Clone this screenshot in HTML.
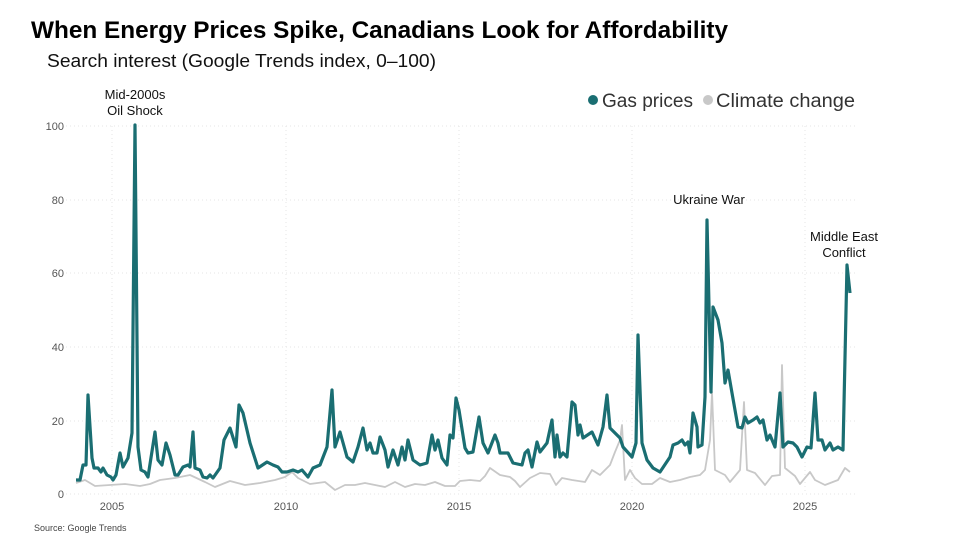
<!DOCTYPE html>
<html><head><meta charset="utf-8"><style>
body{margin:0;width:960px;height:540px;background:#fff;overflow:hidden;font-family:"Liberation Sans",sans-serif}
</style></head><body>
<svg width="960" height="540" xmlns="http://www.w3.org/2000/svg" font-family="Liberation Sans, sans-serif">
<text x="31" y="38" font-size="24.5" font-weight="bold" fill="#000" textLength="697" lengthAdjust="spacingAndGlyphs">When Energy Prices Spike, Canadians Look for Affordability</text>
<text x="47" y="67" font-size="18" fill="#111" textLength="389" lengthAdjust="spacingAndGlyphs">Search interest (Google Trends index, 0–100)</text>
<g stroke="#e6e6e6" stroke-dasharray="1,3" stroke-width="1">
<line x1="66" y1="126" x2="855" y2="126"/><line x1="66" y1="200" x2="855" y2="200"/><line x1="66" y1="273" x2="855" y2="273"/><line x1="66" y1="347" x2="855" y2="347"/><line x1="66" y1="421" x2="855" y2="421"/><line x1="66" y1="494" x2="855" y2="494"/>
<line x1="112" y1="126" x2="112" y2="494"/><line x1="286" y1="126" x2="286" y2="494"/><line x1="459" y1="126" x2="459" y2="494"/><line x1="632" y1="126" x2="632" y2="494"/><line x1="805" y1="126" x2="805" y2="494"/>
</g>
<g font-size="11" fill="#555" text-anchor="end">
<text x="64" y="130">100</text><text x="64" y="204">80</text><text x="64" y="277">60</text><text x="64" y="351">40</text><text x="64" y="425">20</text><text x="64" y="498">0</text>
</g>
<g font-size="11" fill="#555" text-anchor="middle">
<text x="112" y="510">2005</text><text x="286" y="510">2010</text><text x="459" y="510">2015</text><text x="632" y="510">2020</text><text x="805" y="510">2025</text>
</g>
<polyline fill="none" stroke="#c8c8c8" stroke-width="1.8" stroke-linejoin="round" points="76,483 85,480 95,486 110,485 125,484 140,486 150,484 160,480 175,478 190,475 205,482 215,487 230,481 245,485 260,483 275,480 285,477 292,472 298,478 310,484 325,482 335,490 345,485 355,485 365,483 375,485 385,487 395,482 405,487 415,484 425,485 435,482 445,486 455,486 460,481 470,480 480,481 485,476 490,468 500,475 510,477 515,481 520,487 530,478 540,473 550,474 556,485 562,478 572,480 585,482 592,470 600,475 610,465 615,452 620,440 622,425 625,480 630,470 635,478 642,484 652,484 660,478 670,482 680,480 690,477 700,475 705,470 710,440 712,392 715,470 725,475 730,482 740,470 744,402 747,470 755,473 765,485 772,476 780,475 782,365 785,468 795,476 800,484 810,472 815,480 825,485 838,480 845,468 850,472"/>
<polyline fill="none" stroke="#1a6e72" stroke-width="3.2" stroke-linejoin="round" points="76,480 80,480 83,465 86,465 88,395 92,458 94,468 98,468 101,472 103,468 107,475 111,477 113,480 116,475 120,453 123,467 128,458 132,433 135,125 138,447 141,470 145,472 148,477 155,432 158,460 162,465 166,443 170,455 175,475 178,475 183,467 188,465 190,467 193,432 195,468 200,470 203,477 207,478 210,475 213,478 220,468 224,440 230,428 236,447 239,405 243,413 250,443 258,468 267,462 273,465 278,467 282,472 287,472 293,470 298,472 302,470 308,477 313,468 320,465 327,447 332,390 335,447 340,432 347,457 353,462 358,447 363,428 367,450 370,443 373,453 377,453 380,437 385,450 388,467 393,450 398,465 402,447 405,460 408,440 413,460 420,465 427,463 432,435 435,450 438,440 442,458 447,465 450,435 453,438 456,398 459,410 465,448 468,453 473,452 479,417 483,443 488,453 495,435 498,443 500,453 508,453 513,463 522,465 525,453 528,450 532,467 537,442 540,452 547,443 552,420 555,457 557,435 560,457 563,453 567,457 572,402 575,405 578,435 580,425 583,438 592,432 598,445 603,427 607,395 610,428 620,438 623,447 632,457 636,443 638,335 642,443 647,460 653,468 660,472 670,457 673,445 678,443 682,440 685,445 688,442 690,453 693,413 697,427 698,447 702,445 705,397 707,220 711,392 713,307 718,320 722,343 725,383 728,370 732,393 738,427 742,428 745,417 748,423 753,420 757,417 760,423 763,420 767,440 770,435 775,447 780,393 783,447 788,442 793,443 797,447 802,457 807,447 811,448 815,393 818,440 822,440 825,450 830,443 833,450 838,447 843,450 847,265 850,293"/>
<g font-size="13" fill="#111" text-anchor="middle">
<text x="135" y="99">Mid-2000s</text><text x="135" y="115">Oil Shock</text>
<text x="709" y="204">Ukraine War</text>
<text x="844" y="241">Middle East</text><text x="844" y="257">Conflict</text>
</g>
<circle cx="593" cy="100" r="5" fill="#1a6e72"/>
<text x="602" y="107" font-size="19" fill="#333" textLength="91" lengthAdjust="spacingAndGlyphs">Gas prices</text>
<circle cx="708" cy="100" r="5" fill="#c8c8c8"/>
<text x="716" y="107" font-size="19" fill="#333" textLength="139" lengthAdjust="spacingAndGlyphs">Climate change</text>
<text x="34" y="531" font-size="9" fill="#444">Source: Google Trends</text>
</svg>
</body></html>
